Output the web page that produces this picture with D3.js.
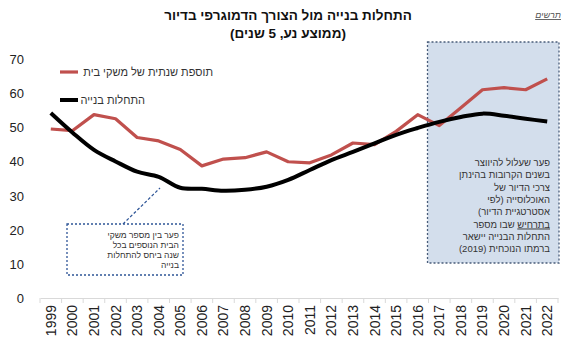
<!DOCTYPE html>
<html><head><meta charset="utf-8">
<script src="https://cdn.jsdelivr.net/npm/d3@7"></script>
<style>
body{margin:0;background:#fff;}
svg{display:block;font-family:"Liberation Sans",Arial,"DejaVu Sans",sans-serif;}
</style></head>
<body><svg id="c" width="566" height="349"></svg>
<script>
const years = ["1999","2000","2001","2002","2003","2004","2005","2006","2007","2008","2009","2010","2011","2012","2013","2014","2015","2016","2017","2018","2019","2020","2021","2022"];
const households = [49.5,49,53.7,52.5,47,46,43.5,38.7,40.7,41.1,42.8,39.9,39.6,41.9,45.4,44.9,48.8,53.7,50.5,55.7,61,61.6,61,64.2];
const starts = [54.2,48.5,43.4,40,37,35.5,32.3,32,31.4,31.7,32.6,34.6,37.5,40.4,42.8,45.3,47.8,49.8,51.6,53,54,53.4,52.5,51.7];
const yTicks = [0,10,20,30,40,50,60,70];
const seriesNames = ["תוספת שנתית של משקי בית","התחלות בנייה"];
const titleLines = ["התחלות בנייה מול הצורך הדמוגרפי בדיור","(ממוצע נע, 5 שנים)"];
const boxLines = ["פער שעלול להיווצר","בשנים הקרובות בהינתן","צרכי הדיור של","האוכלוסייה (לפי","אסטרטגיית הדיור)","בתרחיש| שבו מספר","התחלות הבנייה יישאר","ברמתו הנוכחית (2019)"];
const noteLines = ["פער בין מספר משקי","הבית הנוספים בכל","שנה ביחס להתחלות","בנייה"];

const svg = d3.select("#c");
const x = d3.scaleBand().domain(years).range([40,558]);
const y = d3.scaleLinear().domain([0,70]).range([298,59]);
const cx = d => x(d) + x.bandwidth()/2;

// shaded forecast box
const bx0 = x("2017") - 1, bx1 = 559;
svg.append("rect").attr("x",bx0).attr("y",42).attr("width",bx1-bx0).attr("height",221)
  .attr("fill","#d3deec").attr("stroke","#4a5d7a").attr("stroke-width",1.3).attr("stroke-dasharray","2,2");

// title
svg.append("text").attr("x",288).attr("y",20).attr("text-anchor","middle").attr("direction","rtl")
  .attr("font-size",13.5).attr("font-weight","bold").attr("fill","#111").text(titleLines[0]);
svg.append("text").attr("x",288).attr("y",38).attr("text-anchor","middle").attr("direction","rtl")
  .attr("font-size",13.5).attr("font-weight","bold").attr("fill","#111").text(titleLines[1]);
svg.append("text").attr("x",561).attr("y",18).attr("text-anchor","start").attr("direction","rtl")
  .attr("font-size",9).attr("font-style","italic").attr("text-decoration","underline").attr("fill","#555").text("תרשים");

// y axis labels
svg.append("g").selectAll("text").data(yTicks).join("text")
  .attr("x",24).attr("y",d=>y(d)+5).attr("text-anchor","end").attr("font-size",13).attr("fill","#222").text(d=>d);

// x axis
const xa = svg.append("g").attr("transform","translate(0,298)")
  .call(d3.axisBottom(x).tickSize(0).tickPadding(0).tickFormat(""));
xa.select(".domain").attr("stroke","#d9d9d9");
svg.append("g").selectAll("line").data(years.concat(["end"])).join("line")
  .attr("x1",(d,i)=>40+i*x.bandwidth()).attr("x2",(d,i)=>40+i*x.bandwidth())
  .attr("y1",298).attr("y2",303).attr("stroke","#d9d9d9");
svg.append("g").selectAll("text").data(years).join("text")
  .attr("transform",d=>`translate(${cx(d)+5},305) rotate(-90)`)
  .attr("text-anchor","end").attr("font-size",14).attr("fill","#222").text(d=>d);

// lines
const redLine = d3.line().x((d,i)=>cx(years[i])).y(d=>y(d));
const blackLine = d3.line().x((d,i)=>cx(years[i])).y(d=>y(d)).curve(d3.curveCatmullRom.alpha(0.5));
svg.append("path").attr("d",redLine(households)).attr("fill","none").attr("stroke","#c0504d").attr("stroke-width",3.2).attr("stroke-linejoin","round");
svg.append("path").attr("d",blackLine(starts)).attr("fill","none").attr("stroke","#000").attr("stroke-width",4).attr("stroke-linejoin","round");

// legend
svg.append("line").attr("x1",60).attr("x2",78).attr("y1",72).attr("y2",72).attr("stroke","#c0504d").attr("stroke-width",3.2);
svg.append("text").attr("x",213).attr("y",76).attr("text-anchor","start").attr("direction","rtl").attr("font-size",11).attr("fill","#333").text(seriesNames[0]);
svg.append("line").attr("x1",60).attr("x2",78).attr("y1",100).attr("y2",100).attr("stroke","#000").attr("stroke-width",4);
svg.append("text").attr("x",145).attr("y",104).attr("text-anchor","start").attr("direction","rtl").attr("font-size",11).attr("fill","#333").text(seriesNames[1]);

// box text
const bt = svg.append("g").selectAll("text").data(boxLines).join("text")
  .attr("x",550).attr("y",(d,i)=>166+i*12.3).attr("text-anchor","start").attr("direction","rtl")
  .attr("font-size",9.5).attr("fill","#333");
bt.each(function(d){
  const parts = d.split("|");
  const t = d3.select(this);
  if (parts.length > 1) {
    t.append("tspan").attr("text-decoration","underline").text(parts[0]);
    t.append("tspan").text(parts[1]);
  } else t.text(d);
});

// note box
svg.append("line").attr("x1",123).attr("y1",224).attr("x2",160).attr("y2",188)
  .attr("stroke","#2e5597").attr("stroke-width",1.2).attr("stroke-dasharray","3,2");
svg.append("rect").attr("x",67).attr("y",224).attr("width",116).attr("height",51)
  .attr("fill","#fff").attr("stroke","#2e5597").attr("stroke-width",1.3).attr("stroke-dasharray","2,2");
svg.append("g").selectAll("text").data(noteLines).join("text")
  .attr("x",179).attr("y",(d,i)=>238+i*10).attr("text-anchor","start").attr("direction","rtl")
  .attr("font-size",8.5).attr("fill","#333").text(d=>d);
</script></body></html>
